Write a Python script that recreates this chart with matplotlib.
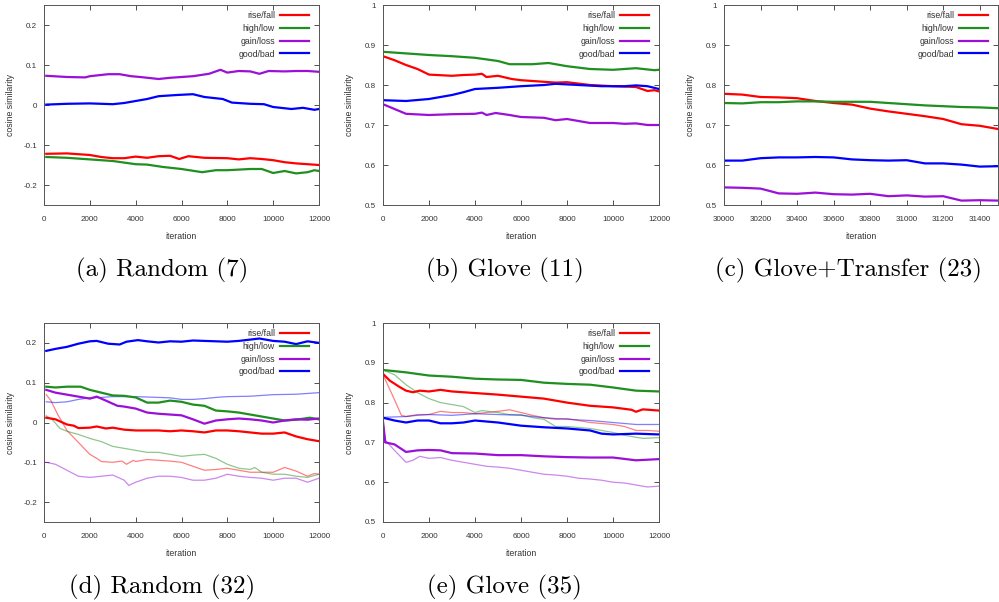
import numpy as np
import matplotlib
matplotlib.use('Agg')
import matplotlib.pyplot as plt

plt.rcParams['font.family'] = ['Liberation Sans', 'DejaVu Sans']

# colours as in the gnuplot figures
RED = '#ff0000'
GREEN = '#1f8f1f'
PURPLE = '#9b10d8'
BLUE = '#0000ff'

labels = ['rise/fall', 'high/low', 'gain/loss', 'good/bad']
colors = [RED, GREEN, PURPLE, BLUE]

# --- (a) Random (7) ---
a_rise = [(100, -0.122), (1000, -0.121), (2000, -0.125), (2500, -0.130), (3000, -0.133), (3500, -0.133),
          (4000, -0.129), (4500, -0.132), (5000, -0.128), (5500, -0.127), (5900, -0.135), (6300, -0.128),
          (7000, -0.132), (8000, -0.133), (8500, -0.136), (9000, -0.133), (9500, -0.135), (10000, -0.138),
          (10500, -0.143), (11000, -0.146), (11500, -0.148), (12000, -0.150)]
a_high = [(100, -0.130), (1000, -0.132), (2000, -0.136), (3000, -0.140), (4000, -0.148), (4500, -0.149),
          (5200, -0.155), (6000, -0.160), (6900, -0.168), (7500, -0.163), (8000, -0.163), (9000, -0.160),
          (9500, -0.160), (10000, -0.170), (10500, -0.165), (11000, -0.171), (11500, -0.168), (11800, -0.163),
          (12000, -0.165)]
a_gain = [(100, 0.073), (1000, 0.070), (1800, 0.069), (2000, 0.072), (2800, 0.077), (3300, 0.077),
          (3800, 0.072), (4200, 0.070), (5000, 0.065), (5500, 0.068), (6000, 0.070), (6500, 0.072),
          (7200, 0.078), (7700, 0.088), (8000, 0.081), (8500, 0.085), (9000, 0.084), (9400, 0.078),
          (9800, 0.085), (10500, 0.084), (11000, 0.085), (11500, 0.085), (12000, 0.083)]
a_good = [(100, 0.001), (1000, 0.003), (2000, 0.004), (3000, 0.002), (3500, 0.005), (4000, 0.010),
          (4500, 0.015), (5000, 0.022), (5800, 0.025), (6500, 0.027), (7000, 0.020), (7800, 0.015),
          (8200, 0.006), (9000, 0.003), (9600, 0.002), (10000, -0.005), (10800, -0.010), (11300, -0.007),
          (11800, -0.012), (12000, -0.010)]

# --- (b) Glove (11) ---
b_rise = [(0, 0.872), (500, 0.862), (1000, 0.850), (1500, 0.840), (2000, 0.826), (3000, 0.823),
          (3500, 0.825), (4000, 0.826), (4300, 0.828), (4500, 0.820), (5000, 0.823), (5600, 0.815),
          (6000, 0.812), (7000, 0.808), (7500, 0.806), (8000, 0.807), (9000, 0.800), (10000, 0.797),
          (11000, 0.795), (11500, 0.785), (11800, 0.787), (12000, 0.784)]
b_high = [(0, 0.883), (1000, 0.879), (2000, 0.875), (3000, 0.872), (4000, 0.868), (5000, 0.860),
          (5500, 0.852), (6500, 0.852), (7200, 0.855), (8000, 0.847), (9000, 0.840), (10000, 0.838),
          (10500, 0.840), (11000, 0.842), (11800, 0.837), (12000, 0.838)]
b_gain = [(0, 0.752), (500, 0.740), (1000, 0.728), (2000, 0.725), (3000, 0.727), (4000, 0.728),
          (4300, 0.731), (4500, 0.725), (4900, 0.730), (5500, 0.725), (6000, 0.720), (7000, 0.718),
          (7500, 0.712), (8000, 0.715), (8500, 0.710), (9000, 0.705), (10000, 0.705), (10500, 0.703),
          (11000, 0.704), (11500, 0.700), (12000, 0.700)]
b_good = [(0, 0.762), (1000, 0.760), (2000, 0.765), (3000, 0.775), (3500, 0.782), (4000, 0.790),
          (5000, 0.793), (6000, 0.797), (7000, 0.800), (7500, 0.803), (8500, 0.800), (9500, 0.797),
          (10500, 0.797), (11000, 0.799), (11500, 0.797), (12000, 0.790)]

# --- (c) Glove+Transfer (23) ---
c_iter = [30000, 30100, 30200, 30300, 30400, 30500, 30600, 30700, 30800, 30900,
          31000, 31100, 31200, 31300, 31400, 31500]
c_rise = [0.778, 0.776, 0.770, 0.769, 0.767, 0.760, 0.755, 0.751, 0.741, 0.734,
          0.728, 0.722, 0.715, 0.702, 0.698, 0.690]
c_high = [0.755, 0.754, 0.757, 0.757, 0.759, 0.759, 0.758, 0.758, 0.758, 0.755,
          0.752, 0.749, 0.747, 0.745, 0.744, 0.742]
c_gain = [0.544, 0.543, 0.541, 0.529, 0.528, 0.531, 0.527, 0.526, 0.528, 0.522,
          0.524, 0.521, 0.522, 0.511, 0.512, 0.511]
c_good = [0.611, 0.611, 0.617, 0.619, 0.619, 0.620, 0.619, 0.614, 0.612, 0.611,
          0.612, 0.604, 0.604, 0.601, 0.596, 0.597]

# --- (d) Random (32): thick = first run, thin = second run ---
d_rise = [(100, 0.012), (500, 0.008), (1000, -0.005), (1300, -0.008), (1500, -0.014), (2000, -0.013),
          (2300, -0.010), (2700, -0.015), (3000, -0.013), (3500, -0.018), (4000, -0.020), (4500, -0.020),
          (5000, -0.020), (5500, -0.022), (6000, -0.020), (6500, -0.022), (7000, -0.025), (7500, -0.020),
          (8000, -0.020), (8500, -0.022), (9000, -0.025), (9500, -0.028), (10000, -0.028), (10500, -0.025),
          (11000, -0.035), (11500, -0.042), (12000, -0.047)]
d_high = [(100, 0.090), (500, 0.088), (1000, 0.090), (1600, 0.090), (2000, 0.082), (2500, 0.075),
          (3000, 0.068), (3500, 0.067), (4000, 0.063), (4500, 0.050), (5000, 0.050), (5500, 0.055),
          (6000, 0.052), (6500, 0.045), (7000, 0.042), (7500, 0.030), (8000, 0.028), (8500, 0.025),
          (9000, 0.020), (9500, 0.015), (10000, 0.010), (10500, 0.005), (11000, 0.007), (11600, 0.012),
          (12000, 0.008)]
d_gain = [(100, 0.082), (500, 0.075), (1000, 0.070), (1500, 0.065), (2000, 0.060), (2300, 0.065),
          (2700, 0.055), (3200, 0.042), (3500, 0.040), (4000, 0.035), (4500, 0.025), (5000, 0.022),
          (5500, 0.020), (6000, 0.018), (6500, 0.008), (7000, -0.003), (7500, 0.005), (8000, 0.008),
          (8500, 0.010), (9000, 0.008), (9500, 0.005), (10000, 0.000), (10500, 0.005), (11000, 0.008),
          (11500, 0.007), (12000, 0.010)]
d_good = [(100, 0.180), (500, 0.185), (1000, 0.190), (1500, 0.198), (2000, 0.204), (2300, 0.205),
          (2800, 0.198), (3300, 0.196), (3600, 0.203), (4100, 0.207), (4500, 0.204), (5000, 0.201),
          (5500, 0.204), (6000, 0.203), (6500, 0.206), (7000, 0.205), (8000, 0.203), (8500, 0.205),
          (9400, 0.211), (10000, 0.205), (10500, 0.203), (11000, 0.197), (11500, 0.204), (12000, 0.200)]
d_rise2 = [(100, 0.070), (300, 0.055), (600, 0.020), (1000, -0.020), (1500, -0.050), (2000, -0.080),
           (2300, -0.090), (2500, -0.098), (3000, -0.100), (3400, -0.097), (3600, -0.105), (3900, -0.095),
           (4000, -0.098), (4500, -0.093), (5000, -0.095), (5500, -0.097), (6000, -0.100), (6500, -0.110),
           (7000, -0.120), (7500, -0.118), (8000, -0.115), (8500, -0.120), (9000, -0.125), (9500, -0.125),
           (10000, -0.125), (10500, -0.113), (11000, -0.122), (11500, -0.135), (11800, -0.128), (12000, -0.130)]
d_high2 = [(100, 0.017), (400, 0.005), (700, -0.015), (1000, -0.022), (1500, -0.030), (2000, -0.040),
           (2500, -0.048), (3000, -0.060), (3500, -0.065), (4000, -0.070), (4500, -0.075), (5000, -0.075),
           (5500, -0.080), (6000, -0.085), (6500, -0.082), (7000, -0.080), (7500, -0.090), (8000, -0.105),
           (8500, -0.115), (9000, -0.118), (9200, -0.113), (9500, -0.125), (10000, -0.130), (10500, -0.130),
           (11000, -0.135), (11500, -0.138), (12000, -0.130)]
d_gain2 = [(100, -0.100), (500, -0.105), (1000, -0.120), (1500, -0.135), (2000, -0.138), (2500, -0.135),
           (3000, -0.132), (3500, -0.145), (3700, -0.158), (4000, -0.150), (4500, -0.140), (5000, -0.135),
           (5500, -0.135), (6000, -0.138), (6500, -0.145), (7000, -0.145), (7500, -0.140), (8000, -0.130),
           (8500, -0.135), (9000, -0.138), (9500, -0.140), (10000, -0.145), (10500, -0.140), (11000, -0.140),
           (11500, -0.150), (12000, -0.140)]
d_good2 = [(100, 0.052), (500, 0.050), (1000, 0.052), (1500, 0.058), (2000, 0.062), (2500, 0.063),
           (3000, 0.065), (4000, 0.065), (5000, 0.063), (5500, 0.062), (6000, 0.058), (6500, 0.058),
           (7000, 0.060), (7500, 0.063), (8000, 0.065), (9000, 0.066), (10000, 0.070), (11000, 0.071),
           (11500, 0.073), (12000, 0.075)]

# --- (e) Glove (35) ---
e_rise = [(0, 0.872), (300, 0.855), (700, 0.840), (1000, 0.830), (1300, 0.826), (1600, 0.830),
          (2000, 0.828), (2500, 0.832), (3000, 0.828), (4000, 0.824), (5000, 0.820), (6000, 0.815),
          (7000, 0.810), (8000, 0.800), (9000, 0.792), (10000, 0.788), (10800, 0.782), (11000, 0.777),
          (11300, 0.783), (12000, 0.780)]
e_high = [(0, 0.882), (1000, 0.876), (2000, 0.868), (3000, 0.865), (4000, 0.860), (5000, 0.858),
          (6000, 0.857), (7000, 0.850), (8000, 0.847), (9000, 0.845), (10000, 0.838), (11000, 0.830),
          (12000, 0.828)]
e_gain = [(0, 0.752), (100, 0.700), (500, 0.695), (1000, 0.676), (1500, 0.680), (2000, 0.681),
          (2500, 0.680), (3000, 0.673), (4000, 0.672), (5000, 0.668), (6000, 0.668), (7000, 0.665),
          (8000, 0.663), (9000, 0.662), (10000, 0.662), (11000, 0.655), (12000, 0.658)]
e_good = [(0, 0.762), (500, 0.755), (1000, 0.750), (1500, 0.755), (2000, 0.755), (2500, 0.748),
          (3000, 0.748), (3500, 0.750), (4000, 0.755), (5000, 0.750), (6000, 0.742), (7000, 0.738),
          (8000, 0.735), (9000, 0.730), (9500, 0.722), (10000, 0.720), (11000, 0.722), (12000, 0.720)]
e_rise2 = [(0, 0.870), (400, 0.820), (800, 0.768), (1000, 0.765), (1500, 0.770), (2000, 0.770),
           (2500, 0.778), (3000, 0.775), (3500, 0.775), (4000, 0.772), (4500, 0.775), (5000, 0.778),
           (5500, 0.782), (6000, 0.775), (6500, 0.768), (7000, 0.762), (7500, 0.758), (8000, 0.760),
           (8500, 0.755), (9000, 0.750), (10000, 0.745), (10500, 0.740), (11000, 0.730), (11500, 0.730),
           (12000, 0.728)]
e_high2 = [(0, 0.882), (500, 0.870), (1000, 0.845), (1500, 0.825), (2000, 0.810), (2500, 0.800),
           (3000, 0.795), (3500, 0.790), (4000, 0.775), (4300, 0.780), (5000, 0.775), (5500, 0.770),
           (6000, 0.770), (6500, 0.762), (7000, 0.758), (7500, 0.740), (8000, 0.740), (9000, 0.735),
           (10000, 0.725), (10500, 0.718), (11300, 0.710), (12000, 0.712)]
e_gain2 = [(0, 0.752), (100, 0.705), (500, 0.680), (1000, 0.650), (1300, 0.655), (1600, 0.665),
           (2000, 0.660), (2500, 0.662), (3000, 0.655), (3500, 0.650), (4000, 0.645), (4500, 0.640),
           (5000, 0.638), (5500, 0.635), (6000, 0.630), (6500, 0.625), (7000, 0.620), (7500, 0.618),
           (8000, 0.615), (8500, 0.610), (9000, 0.608), (9500, 0.605), (10000, 0.600), (10500, 0.598),
           (11000, 0.593), (11500, 0.588), (12000, 0.590)]
e_good2 = [(0, 0.763), (1000, 0.765), (1500, 0.768), (2000, 0.770), (3000, 0.768), (4000, 0.772),
           (5000, 0.770), (6000, 0.768), (7000, 0.762), (8000, 0.758), (9000, 0.755), (10000, 0.750),
           (11000, 0.745), (12000, 0.745)]

captions = ['(a) Random (7)', '(b) Glove (11)', '(c) Glove+Transfer (23)',
            '(d) Random (32)', '(e) Glove (35)']

W, H = 999.0, 602.0


def style_axes(ax, xlim, ylim, xticks, yticks):
    ax.set_xlim(*xlim)
    ax.set_ylim(*ylim)
    ax.set_xticks(xticks)
    ax.set_yticks(yticks)
    ax.set_yticklabels([('%g' % t) for t in yticks])
    ax.tick_params(direction='in', length=3.5, width=0.6, top=True, right=True,
                   labelsize=5.8, colors='#333333')
    ax.tick_params(axis='x', pad=8)
    ax.tick_params(axis='y', pad=5)
    for s in ax.spines.values():
        s.set_color('#555555')
        s.set_linewidth(0.7)
    bb = ax.get_position()
    wpx, hpx = bb.width * W, bb.height * H
    ax.set_xlabel('iteration', fontsize=6.3, color='#333333')
    ax.set_ylabel('cosine similarity', fontsize=6.3, color='#333333')
    ax.xaxis.set_label_coords(0.5, -27.0 / hpx)
    ax.yaxis.set_label_coords(-29.0 / wpx, 0.5)


def plot_pairs(ax, pts, color, lw, alpha=1.0, label=None):
    xs = [p[0] for p in pts]
    ys = [p[1] for p in pts]
    ax.plot(xs, ys, color=color, lw=lw, alpha=alpha, label=label, solid_joinstyle='round')


def add_legend(ax):
    leg = ax.legend(loc='upper right', frameon=False, markerfirst=False, fontsize=6.3,
                    handlelength=3.3, handletextpad=0.6, labelspacing=0.45,
                    borderaxespad=0.25, bbox_to_anchor=(0.985, 1.0))
    for t in leg.get_texts():
        t.set_color('#333333')


fig = plt.figure(figsize=(9.99, 6.02), dpi=100)


def make_ax(x0, x1, y0, y1):
    return fig.add_axes([x0 / W, 1 - y1 / H, (x1 - x0) / W, (y1 - y0) / H])


THICK = 1.6
THIN = 0.9

axa = make_ax(44, 319, 5, 205)
for pts, c, l in zip([a_rise, a_high, a_gain, a_good], colors, labels):
    plot_pairs(axa, pts, c, THICK, label=l)
style_axes(axa, (0, 12000), (-0.25, 0.25), np.arange(0, 12001, 2000), [-0.2, -0.1, 0, 0.1, 0.2])
add_legend(axa)

axb = make_ax(383, 659, 5, 205)
for pts, c, l in zip([b_rise, b_high, b_gain, b_good], colors, labels):
    plot_pairs(axb, pts, c, THICK, label=l)
style_axes(axb, (0, 12000), (0.5, 1.0), np.arange(0, 12001, 2000), [0.5, 0.6, 0.7, 0.8, 0.9, 1])
add_legend(axb)

axc = make_ax(724, 998, 5, 205)
for ys, c, l in zip([c_rise, c_high, c_gain, c_good], colors, labels):
    axc.plot(c_iter, ys, color=c, lw=THICK, label=l)
style_axes(axc, (30000, 31500), (0.5, 1.0), np.arange(30000, 31401, 200), [0.5, 0.6, 0.7, 0.8, 0.9, 1])
add_legend(axc)

axd = make_ax(44, 319, 323, 522)
for pts, c in zip([d_rise2, d_high2, d_gain2, d_good2], colors):
    plot_pairs(axd, pts, c, THIN, alpha=0.5)
for pts, c, l in zip([d_rise, d_high, d_gain, d_good], colors, labels):
    plot_pairs(axd, pts, c, THICK, label=l)
style_axes(axd, (0, 12000), (-0.25, 0.25), np.arange(0, 12001, 2000), [-0.2, -0.1, 0, 0.1, 0.2])
add_legend(axd)

axe = make_ax(383, 659, 323, 522)
for pts, c in zip([e_rise2, e_high2, e_gain2, e_good2], colors):
    plot_pairs(axe, pts, c, THIN, alpha=0.5)
for pts, c, l in zip([e_rise, e_high, e_gain, e_good], colors, labels):
    plot_pairs(axe, pts, c, THICK, label=l)
style_axes(axe, (0, 12000), (0.5, 1.0), np.arange(0, 12001, 2000), [0.5, 0.6, 0.7, 0.8, 0.9, 1])
add_legend(axe)

# sub-figure captions in Computer Modern, as in the LaTeX document
cap_pos = [(162, 270), (505, 270), (848, 270), (162, 587), (504, 587)]
for (cx, cy), txt in zip(cap_pos, captions):
    fig.text(cx / W, 1 - cy / H, txt, ha='center', va='center', fontsize=18,
             family=['cmr10', 'DejaVu Serif'], color='black')

fig.savefig('out.png', dpi=100)
